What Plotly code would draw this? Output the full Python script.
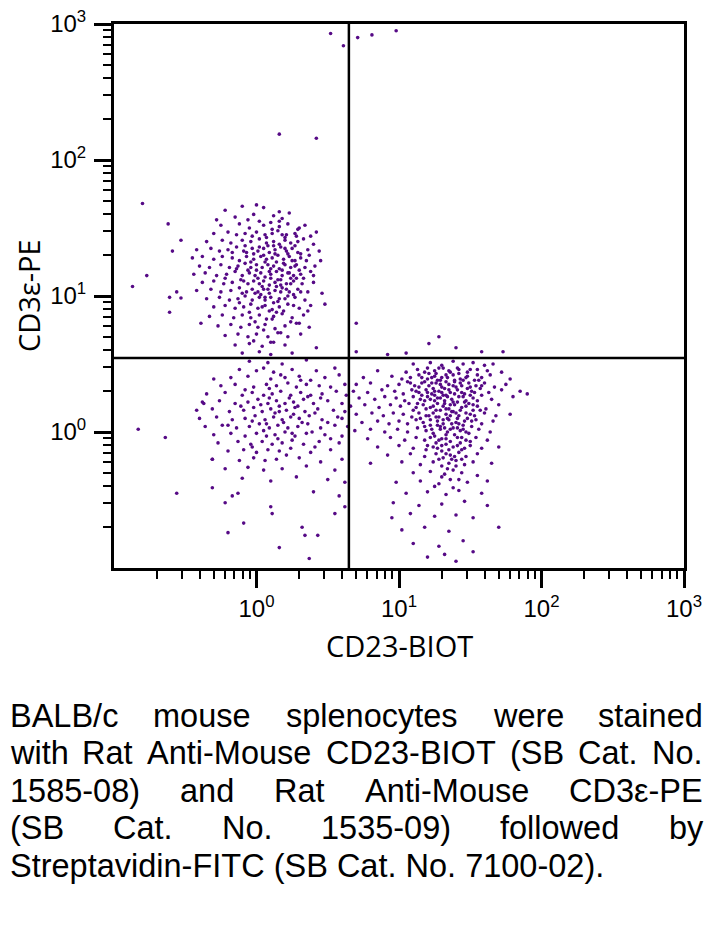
import plotly.graph_objects as go

# ---------------- data: events as (log10 CD23-BIOT, log10 CD3e-PE) ----------------
t_cells = [
    (-0.10,1.66),(0.00,1.67),(0.05,1.65),(-0.22,1.63),
    (-0.15,1.58),(-0.02,1.60),(0.12,1.59),(0.18,1.57),(0.23,1.61),(-0.28,1.56),
    (-0.25,1.52),(-0.12,1.53),(-0.05,1.50),(0.05,1.52),(0.10,1.54),(0.16,1.51),(0.22,1.53),(0.30,1.50),(0.34,1.52),
    (-0.30,1.46),(-0.20,1.47),(-0.14,1.45),(-0.08,1.46),(0.00,1.47),(0.06,1.45),(0.11,1.46),(0.15,1.48),(0.21,1.45),(0.27,1.46),(0.38,1.44),(0.42,1.47),
    (-0.35,1.40),(-0.24,1.41),(-0.18,1.39),(-0.10,1.41),(-0.04,1.40),(0.02,1.42),(0.07,1.39),(0.12,1.40),(0.16,1.38),(0.20,1.41),(0.24,1.39),(0.29,1.40),(0.33,1.42),(0.40,1.38),
    (-0.42,1.34),(-0.32,1.35),(-0.26,1.33),(-0.20,1.34),(-0.14,1.36),(-0.09,1.33),(-0.03,1.35),(0.01,1.33),(0.05,1.35),(0.09,1.32),(0.13,1.34),(0.17,1.36),(0.21,1.33),(0.25,1.35),(0.29,1.32),(0.36,1.34),(0.44,1.33),
    (-0.45,1.28),(-0.38,1.29),(-0.30,1.27),(-0.24,1.29),(-0.17,1.28),(-0.12,1.26),(-0.07,1.29),(-0.02,1.27),(0.03,1.29),(0.07,1.27),(0.11,1.28),(0.15,1.30),(0.19,1.27),(0.23,1.29),(0.27,1.26),(0.31,1.28),(0.37,1.30),(0.45,1.26),
    (-0.40,1.22),(-0.33,1.21),(-0.25,1.23),(-0.19,1.21),(-0.13,1.22),(-0.08,1.24),(-0.04,1.21),(0.00,1.23),(0.04,1.21),(0.08,1.23),(0.12,1.22),(0.16,1.20),(0.20,1.23),(0.24,1.21),(0.28,1.23),(0.34,1.21),(0.41,1.22),
    (-0.44,1.16),(-0.36,1.17),(-0.28,1.15),(-0.21,1.16),(-0.15,1.18),(-0.10,1.15),(-0.05,1.17),(-0.01,1.15),(0.03,1.17),(0.06,1.14),(0.10,1.16),(0.14,1.18),(0.18,1.15),(0.22,1.17),(0.26,1.15),(0.31,1.16),(0.38,1.18),
    (-0.38,1.10),(-0.30,1.11),(-0.23,1.09),(-0.17,1.10),(-0.11,1.12),(-0.06,1.09),(-0.02,1.11),(0.02,1.09),(0.05,1.11),(0.09,1.08),(0.13,1.10),(0.17,1.12),(0.21,1.09),(0.26,1.11),(0.32,1.09),(0.40,1.10),
    (-0.42,1.04),(-0.32,1.05),(-0.25,1.03),(-0.18,1.04),(-0.12,1.06),(-0.07,1.03),(-0.03,1.05),(0.01,1.03),(0.05,1.05),(0.09,1.02),(0.13,1.04),(0.18,1.06),(0.23,1.03),(0.29,1.05),(0.36,1.03),(0.46,1.02),
    (-0.35,0.98),(-0.26,0.99),(-0.19,0.97),(-0.13,0.98),(-0.08,1.00),(-0.03,0.97),(0.02,0.99),(0.06,0.97),(0.10,0.99),(0.15,0.96),(0.20,0.98),(0.27,0.99),(0.34,0.97),
    (-0.30,0.92),(-0.22,0.93),(-0.15,0.91),(-0.09,0.92),(-0.04,0.94),(0.01,0.91),(0.06,0.93),(0.11,0.90),(0.16,0.92),(0.22,0.94),(0.30,0.91),(0.38,0.93),
    (-0.33,0.85),(-0.24,0.86),(-0.16,0.84),(-0.10,0.86),(-0.04,0.84),(0.02,0.86),(0.07,0.83),(0.12,0.85),(0.18,0.87),(0.25,0.84),(0.33,0.86),
    (-0.27,0.78),(-0.18,0.79),(-0.11,0.77),(-0.05,0.79),(0.01,0.77),(0.06,0.79),(0.13,0.76),(0.20,0.78),(0.28,0.80),(0.37,0.77),
    (-0.22,0.71),(-0.13,0.72),(-0.06,0.70),(0.00,0.72),(0.08,0.70),(0.15,0.73),(0.22,0.70),(0.31,0.72),
    (-0.15,0.64),(-0.05,0.65),(0.04,0.63),(0.12,0.66),(0.20,0.64),(0.42,0.62),
    (-0.10,0.58),(0.02,0.59),(0.10,0.57),(0.25,0.58),
    (0.00,1.19),(0.06,1.25),(0.10,1.13),(0.14,1.07),(0.18,1.19),(0.22,1.31),(0.24,1.13),(0.08,1.37),(0.03,1.01),(-0.02,1.31),
    (0.12,0.95),(0.17,1.03),(0.20,1.43),(0.27,1.37),(0.14,1.25),(0.04,1.07),(-0.06,1.19),(0.09,0.89),(0.19,0.89),(-0.01,0.81),
    (0.26,1.01),(0.30,1.19),(0.11,1.49),(-0.08,1.37),(0.16,1.55),(0.02,1.55),(0.24,0.81),(0.05,0.75),(-0.12,0.95),(0.28,1.44),
    (0.05,1.30),(0.10,1.20),(0.15,1.12),(0.19,1.24),(0.23,1.17),(0.27,1.22),(0.31,1.31),(0.13,1.31),(0.08,1.05),(0.01,1.13),
    (-0.04,1.25),(-0.09,1.11),(-0.14,1.20),(0.21,1.05),(0.26,0.93),(0.16,0.98),(0.11,0.83),(0.04,0.92),(-0.05,0.88),(-0.10,1.02),
    (0.33,1.13),(0.35,1.26),(0.29,1.49),(0.18,1.45),(0.07,1.43),(-0.03,1.44),(-0.17,1.32),(-0.22,1.13),(0.36,0.89),(0.30,0.80),
    (0.17,0.73),(0.10,0.66),(-0.02,0.67),(0.24,1.09),(0.20,1.35),(0.12,1.37),(0.02,1.36),(-0.07,1.32),(0.09,1.18),(0.17,1.08),
    (0.25,1.26),(0.14,0.88),(0.06,0.99),(0.28,1.13),(0.22,1.00),(-0.01,1.02),(0.31,1.03),(0.40,1.15),(0.16,1.62),(-0.06,1.56),
    (-0.80,1.68),(-0.62,1.53),(-0.53,1.41),(-0.59,1.33),(-0.77,1.15),(-0.87,1.07),(-0.61,0.99),(-0.56,1.03),(-0.53,0.985),
    (-0.61,0.88),(-0.39,0.80),(0.48,0.94),
]

double_negative = [
    (-0.05,0.52),(0.08,0.51),(0.18,0.50),(0.35,0.53),
    (-0.12,0.46),(0.00,0.45),(0.05,0.47),(0.12,0.44),(0.25,0.46),(0.42,0.45),(0.55,0.47),
    (-0.30,0.39),(-0.18,0.40),(-0.06,0.41),(0.10,0.39),(0.20,0.40),(0.30,0.41),(0.38,0.38),(0.48,0.40),(0.58,0.42),
    (-0.25,0.34),(-0.15,0.35),(-0.02,0.33),(0.07,0.35),(0.14,0.34),(0.22,0.36),(0.28,0.33),(0.35,0.35),(0.44,0.34),(0.52,0.33),(0.62,0.35),
    (-0.35,0.28),(-0.22,0.29),(-0.10,0.27),(-0.03,0.29),(0.05,0.27),(0.11,0.28),(0.17,0.30),(0.24,0.27),(0.31,0.29),(0.38,0.27),(0.46,0.28),(0.56,0.30),(0.63,0.27),
    (-0.38,0.22),(-0.26,0.23),(-0.15,0.21),(-0.06,0.22),(0.01,0.24),(0.08,0.21),(0.14,0.23),(0.20,0.21),(0.26,0.22),(0.33,0.24),(0.40,0.21),(0.50,0.23),(0.60,0.21),
    (-0.42,0.16),(-0.31,0.17),(-0.19,0.15),(-0.09,0.16),(-0.02,0.18),(0.04,0.15),(0.10,0.17),(0.16,0.15),(0.21,0.16),(0.27,0.18),(0.34,0.15),(0.43,0.17),(0.54,0.16),(0.62,0.15),
    (-0.40,0.10),(-0.28,0.11),(-0.17,0.09),(-0.08,0.10),(-0.01,0.12),(0.06,0.09),(0.12,0.11),(0.18,0.09),(0.24,0.11),(0.30,0.10),(0.37,0.12),(0.46,0.09),(0.57,0.11),
    (-0.36,0.04),(-0.24,0.05),(-0.14,0.03),(-0.05,0.04),(0.02,0.06),(0.09,0.03),(0.15,0.05),(0.22,0.03),(0.29,0.04),(0.36,0.06),(0.45,0.03),(0.55,0.05),(0.64,0.04),
    (-0.30,-0.02),(-0.18,-0.01),(-0.08,-0.03),(0.00,-0.01),(0.07,-0.03),(0.13,-0.02),(0.20,0.00),(0.27,-0.03),(0.35,-0.01),(0.48,-0.02),(0.60,-0.03),
    (-0.27,-0.08),(-0.13,-0.07),(-0.04,-0.09),(0.04,-0.07),(0.11,-0.09),(0.18,-0.08),(0.25,-0.06),(0.33,-0.09),(0.44,-0.07),(0.58,-0.08),
    (-0.20,-0.14),(-0.09,-0.13),(0.00,-0.15),(0.08,-0.13),(0.16,-0.14),(0.24,-0.12),(0.38,-0.15),(0.52,-0.13),
    (-0.31,-0.20),(-0.12,-0.21),(-0.02,-0.19),(0.06,-0.21),(0.14,-0.20),(0.30,-0.19),(0.45,-0.22),(0.60,-0.20),
    (-0.22,-0.27),(-0.06,-0.26),(0.05,-0.28),(0.18,-0.27),(0.35,-0.25),(0.55,-0.28),
    (-0.10,-0.34),(0.10,-0.36),(0.28,-0.33),(0.50,-0.35),(0.62,-0.37),
    (-0.56,-0.45),(-0.31,-0.41),(-0.13,-0.45),(-0.17,-0.47),(0.10,-0.55),(0.11,-0.60),(0.40,-0.44),(0.58,-0.47),
    (-0.22,-0.52),(-0.20,-0.74),(-0.09,-0.67),(0.16,-0.85),(0.37,-0.93),(0.32,-0.70),(0.43,-0.76),(0.34,-0.76),(0.55,-0.60),(0.62,-0.55),
    (0.03,0.20),(0.09,0.25),(0.16,0.19),(0.23,0.25),(0.29,0.19),(0.36,0.26),(0.41,0.14),(0.32,0.07),(0.26,0.13),(0.19,0.07),
    (0.13,0.14),(0.07,0.06),(-0.03,0.08),(0.39,0.00),(0.25,-0.01),(0.15,-0.05),(0.05,0.01),(-0.11,0.19),(0.45,0.25),(0.50,0.07),
    (0.31,0.38),(0.17,0.42),(-0.08,0.31),(0.60,0.10),(0.52,-0.05),(0.41,-0.11),(0.21,-0.17),(-0.03,-0.11),(0.09,0.32),(-0.20,0.05),
    (-0.83,0.02),(-0.64,-0.04),(-0.37,0.21),(-0.31,-0.20),
]

b_cells = [
    (1.10,0.50),(1.22,0.51),(1.30,0.49),(1.38,0.52),(1.45,0.50),(1.52,0.51),(1.60,0.49),(1.66,0.50),
    (0.85,0.45),(1.05,0.44),(1.13,0.46),(1.18,0.44),(1.25,0.45),(1.31,0.47),(1.36,0.44),(1.42,0.46),(1.48,0.44),(1.55,0.46),(1.62,0.45),(1.72,0.44),
    (0.75,0.40),(0.95,0.41),(1.02,0.39),(1.08,0.40),(1.14,0.42),(1.20,0.39),(1.25,0.41),(1.29,0.38),(1.34,0.40),(1.38,0.42),(1.43,0.39),(1.48,0.41),(1.53,0.38),(1.58,0.40),(1.64,0.42),(1.78,0.39),
    (0.70,0.35),(0.80,0.36),(0.92,0.34),(1.00,0.35),(1.06,0.37),(1.11,0.34),(1.16,0.36),(1.21,0.34),(1.26,0.36),(1.30,0.33),(1.35,0.35),(1.39,0.37),(1.44,0.34),(1.49,0.36),(1.54,0.34),(1.60,0.36),(1.67,0.33),(1.75,0.35),
    (0.68,0.30),(0.78,0.29),(0.88,0.31),(0.97,0.30),(1.03,0.28),(1.09,0.31),(1.14,0.29),(1.19,0.31),(1.23,0.28),(1.28,0.30),(1.32,0.32),(1.36,0.29),(1.41,0.31),(1.46,0.28),(1.51,0.30),(1.57,0.32),(1.63,0.29),(1.72,0.31),(1.85,0.30),
    (0.72,0.25),(0.83,0.24),(0.90,0.26),(0.98,0.25),(1.04,0.23),(1.10,0.26),(1.15,0.24),(1.20,0.26),(1.25,0.23),(1.29,0.25),(1.33,0.27),(1.37,0.24),(1.42,0.26),(1.47,0.23),(1.52,0.25),(1.58,0.27),(1.65,0.24),(1.80,0.26),(1.90,0.28),
    (0.66,0.19),(0.76,0.20),(0.86,0.18),(0.94,0.20),(1.01,0.19),(1.07,0.21),(1.12,0.18),(1.17,0.20),(1.22,0.18),(1.27,0.21),(1.31,0.19),(1.35,0.17),(1.39,0.20),(1.44,0.18),(1.49,0.21),(1.55,0.19),(1.61,0.17),(1.70,0.20),
    (0.70,0.13),(0.81,0.14),(0.89,0.12),(0.96,0.14),(1.03,0.13),(1.09,0.11),(1.14,0.14),(1.19,0.12),(1.24,0.14),(1.28,0.11),(1.33,0.13),(1.37,0.15),(1.42,0.12),(1.47,0.14),(1.53,0.12),(1.60,0.14),(1.68,0.12),(1.78,0.13),
    (0.74,0.07),(0.85,0.08),(0.93,0.06),(1.00,0.08),(1.06,0.06),(1.12,0.09),(1.17,0.07),(1.22,0.05),(1.27,0.08),(1.31,0.06),(1.35,0.09),(1.40,0.07),(1.45,0.05),(1.51,0.08),(1.58,0.06),(1.66,0.08),
    (0.69,0.01),(0.80,0.02),(0.90,0.00),(0.99,0.02),(1.06,0.00),(1.13,0.03),(1.19,0.01),(1.24,-0.01),(1.29,0.02),(1.34,0.00),(1.38,0.03),(1.43,0.01),(1.49,-0.01),(1.56,0.02),(1.64,0.00),
    (0.78,-0.05),(0.94,-0.04),(1.04,-0.06),(1.12,-0.04),(1.18,-0.06),(1.25,-0.03),(1.30,-0.05),(1.36,-0.07),(1.41,-0.04),(1.47,-0.06),(1.54,-0.04),(1.62,-0.06),
    (0.85,-0.11),(1.00,-0.10),(1.10,-0.12),(1.20,-0.10),(1.27,-0.12),(1.33,-0.09),(1.38,-0.11),(1.44,-0.13),(1.50,-0.10),(1.58,-0.12),(1.70,-0.11),
    (0.92,-0.17),(1.08,-0.16),(1.18,-0.18),(1.26,-0.16),(1.31,-0.19),(1.36,-0.17),(1.42,-0.15),(1.47,-0.18),(1.55,-0.16),
    (0.80,-0.23),(1.02,-0.22),(1.15,-0.24),(1.24,-0.22),(1.30,-0.25),(1.35,-0.23),(1.40,-0.21),(1.46,-0.24),(1.52,-0.22),(1.65,-0.23),
    (1.10,-0.30),(1.22,-0.29),(1.32,-0.31),(1.38,-0.28),(1.44,-0.30),(1.55,-0.32),
    (0.98,-0.37),(1.15,-0.36),(1.28,-0.38),(1.36,-0.35),(1.48,-0.37),(1.62,-0.36),
    (1.05,-0.45),(1.20,-0.44),(1.33,-0.46),(1.42,-0.43),(1.58,-0.45),
    (0.96,-0.52),(1.14,-0.54),(1.30,-0.53),(1.46,-0.51),(1.62,-0.54),
    (0.95,-0.63),(1.08,-0.60),(1.25,-0.62),(1.40,-0.61),(1.52,-0.63),
    (1.02,-0.72),(1.18,-0.70),(1.35,-0.73),(1.70,-0.70),
    (1.10,-0.82),(1.28,-0.84),(1.45,-0.80),
    (1.20,-0.92),(1.32,-0.90),(1.52,-0.88),(1.40,-0.95),
    (1.21,0.43),(1.27,0.38),(1.33,0.42),(1.40,0.33),(1.45,0.38),(1.24,0.32),(1.31,0.27),(1.38,0.22),(1.44,0.29),(1.26,0.16),
    (1.34,0.10),(1.40,0.14),(1.46,0.22),(1.50,0.33),(1.18,0.23),(1.22,0.09),(1.29,0.04),(1.36,0.02),(1.43,-0.08),(1.30,-0.14),
    (1.37,-0.20),(1.33,-0.02),(1.48,0.10),(1.16,0.40),(1.12,0.30),(1.55,0.42),(1.28,0.47),(1.41,0.47),(1.35,0.31),(1.26,-0.08),
    (1.19,-0.13),(1.23,0.36),(1.47,0.00),(1.52,0.16),(1.10,0.16),(1.08,0.36),(1.39,0.38),(1.32,0.21),(1.25,0.27),(1.42,0.06),
    (1.20,0.47),(1.26,0.43),(1.30,0.40),(1.35,0.45),(1.42,0.43),(1.47,0.40),(1.50,0.46),(1.56,0.38),(1.18,0.37),(1.23,0.40),
    (1.29,0.35),(1.33,0.37),(1.38,0.34),(1.43,0.36),(1.48,0.32),(1.53,0.29),(1.58,0.34),(1.14,0.33),(1.20,0.29),(1.25,0.30),
    (1.30,0.29),(1.34,0.26),(1.39,0.28),(1.45,0.26),(1.50,0.27),(1.55,0.23),(1.16,0.27),(1.22,0.24),(1.27,0.25),(1.32,0.23),
    (1.36,0.20),(1.41,0.22),(1.47,0.19),(1.52,0.20),(1.13,0.21),(1.19,0.17),(1.24,0.19),(1.29,0.16),(1.33,0.17),(1.38,0.15),
    (1.43,0.16),(1.50,0.13),(1.57,0.16),(1.15,0.10),(1.21,0.12),(1.26,0.11),(1.31,0.09),(1.36,0.12),(1.41,0.10),(1.46,0.08),
    (1.54,0.09),(1.18,0.04),(1.23,0.02),(1.27,0.05),(1.32,0.03),(1.37,0.06),(1.41,0.03),(1.45,0.02),(1.51,0.04),(1.22,-0.04),
    (1.28,-0.06),(1.33,-0.05),(1.39,-0.02),(1.44,-0.04),(1.50,-0.07),(1.24,-0.11),(1.30,-0.10),(1.35,-0.13),(1.41,-0.10),(1.46,-0.12),
    (1.28,-0.20),(1.33,-0.16),(1.39,-0.18),(1.44,-0.20),(1.34,-0.27),(1.40,-0.25),(1.30,-0.33),(1.42,-0.35),(1.25,-0.40),(1.38,-0.41),
]

sparse_events = [
    (0.52,2.93),(0.61,2.84),(0.71,2.90),(0.81,2.92),(0.98,2.95),
    (0.16,2.19),(0.42,2.16),
    (0.70,0.80),(1.28,0.70),(1.21,0.65),(1.40,0.62),(0.70,0.59),(1.58,0.59),(1.73,0.59),(1.05,0.58),(0.92,0.57),
]

cd23_gate = 4.45     # vertical quadrant line (CD23-BIOT)
cd3_gate = 3.5       # horizontal quadrant line (CD3e-PE)
axis_min, axis_max = 0.1, 1000
major_ticks = [1, 10, 100, 1000]
major_text = ["10<sup>0</sup>", "10<sup>1</sup>", "10<sup>2</sup>", "10<sup>3</sup>"]
minor_digits = [2, 3, 4, 5, 6, 7, 8, 9]
decade_starts = [0.1, 1, 10, 100]
minor_ticks = [d * s for s in decade_starts for d in minor_digits]

x_title = "CD23-BIOT"
y_title = "CD3ε-PE"
caption_justified = [
    ["BALB/c", "mouse", "splenocytes", "were", "stained"],
    ["with", "Rat", "Anti-Mouse", "CD23-BIOT", "(SB", "Cat.", "No."],
    ["1585-08)", "and", "Rat", "Anti-Mouse", "CD3ε-PE"],
    ["(SB", "Cat.", "No.", "1535-09)", "followed", "by"],
]
caption_last = "Streptavidin-FITC (SB Cat. No. 7100-02)."

# ---------------- layout geometry (pixels) ----------------
W, H = 709, 929
ML, MR, MT, MB = 114, 25, 24, 361
PW, PH = W - ML - MR, H - MT - MB

def px(xp):
    return (xp - ML) / PW

def py(yp):
    return (H - MB - yp) / PH

# Arial / Liberation Sans advance widths (1/1000 em) used to justify caption lines
ADV = {" ": 278, "(": 333, ")": 333, "-": 333, ".": 278, "/": 278, "ε": 446,
       "A": 667, "B": 667, "C": 722, "D": 722, "E": 667, "F": 611, "I": 278, "L": 556,
       "M": 833, "N": 722, "O": 778, "P": 667, "R": 722, "S": 667, "T": 611,
       "a": 556, "b": 556, "c": 500, "d": 556, "e": 556, "f": 278, "h": 556, "i": 222,
       "l": 222, "m": 833, "n": 556, "o": 556, "p": 556, "r": 333, "s": 500, "t": 278,
       "u": 556, "v": 500, "w": 722, "y": 500}

def text_w(s, size):
    return sum(ADV.get(ch, 556) for ch in s) * size / 1000.0

CAP_SIZE = 32.5
CAP_LEFT, CAP_RIGHT = 8, 701
cap_mid = [715.7, 753.4, 791.4, 828.4, 866.4]

DOT = "#560a86"
fig = go.Figure()
for pop in (t_cells, double_negative, b_cells, sparse_events):
    fig.add_trace(go.Scatter(
        x=[10 ** a for a, b in pop], y=[10 ** b for a, b in pop],
        mode="markers", marker=dict(size=3.6, color=DOT, line=dict(width=0)),
        showlegend=False, hoverinfo="skip"))

fig.add_trace(go.Scatter(x=[cd23_gate, cd23_gate], y=[axis_min, axis_max], mode="lines",
                         line=dict(color="black", width=2.5), showlegend=False, hoverinfo="skip"))
fig.add_trace(go.Scatter(x=[axis_min, axis_max], y=[cd3_gate, cd3_gate], mode="lines",
                         line=dict(color="black", width=2.5), showlegend=False, hoverinfo="skip"))

tickfont = dict(family="Liberation Sans, Arial, sans-serif", size=24, color="black")
common = dict(type="log", range=[-1, 3], showgrid=False, zeroline=False, automargin=False,
              showline=True, linecolor="black", linewidth=3, mirror=True,
              ticks="outside", ticklen=17, tickwidth=3, tickcolor="black",
              tickmode="array", tickvals=major_ticks, ticktext=major_text,
              tickfont=tickfont,
              minor=dict(tickmode="array", tickvals=minor_ticks, ticks="outside",
                         ticklen=8, tickwidth=2, tickcolor="black", showgrid=False))
fig.update_xaxes(**common, ticklabelstandoff=0)
fig.update_yaxes(**common, ticklabelstandoff=3)

ann = []
title_font = dict(family="Open Sans, sans-serif", size=29, color="black")
ann.append(dict(text=x_title, x=px(399), y=py(645), xref="paper", yref="paper",
                xanchor="center", yanchor="middle", showarrow=False, font=title_font))
ann.append(dict(text=y_title, x=px(28), y=py(296), xref="paper", yref="paper",
                xanchor="center", yanchor="middle", showarrow=False, font=title_font,
                textangle=-90))

cap_font = dict(family="Liberation Sans, Arial, sans-serif", size=CAP_SIZE, color="black")
for words, ym in zip(caption_justified, cap_mid):
    widths = [text_w(w, CAP_SIZE) for w in words]
    gap = (CAP_RIGHT - CAP_LEFT - sum(widths)) / (len(words) - 1)
    xpos = CAP_LEFT
    for w, wd in zip(words, widths):
        ann.append(dict(text=w, x=px(xpos), y=py(ym), xref="paper", yref="paper",
                        xanchor="left", yanchor="middle", showarrow=False, font=cap_font))
        xpos += wd + gap
ann.append(dict(text=caption_last, x=px(CAP_LEFT), y=py(cap_mid[4]), xref="paper", yref="paper",
                xanchor="left", yanchor="middle", showarrow=False, font=cap_font))

fig.update_layout(width=W, height=H, margin=dict(l=ML, r=MR, t=MT, b=MB, pad=0),
                  paper_bgcolor="white", plot_bgcolor="white", annotations=ann)
fig.write_html("out.html", config={"displayModeBar": False},
               post_script="document.body.style.margin='0px';")
